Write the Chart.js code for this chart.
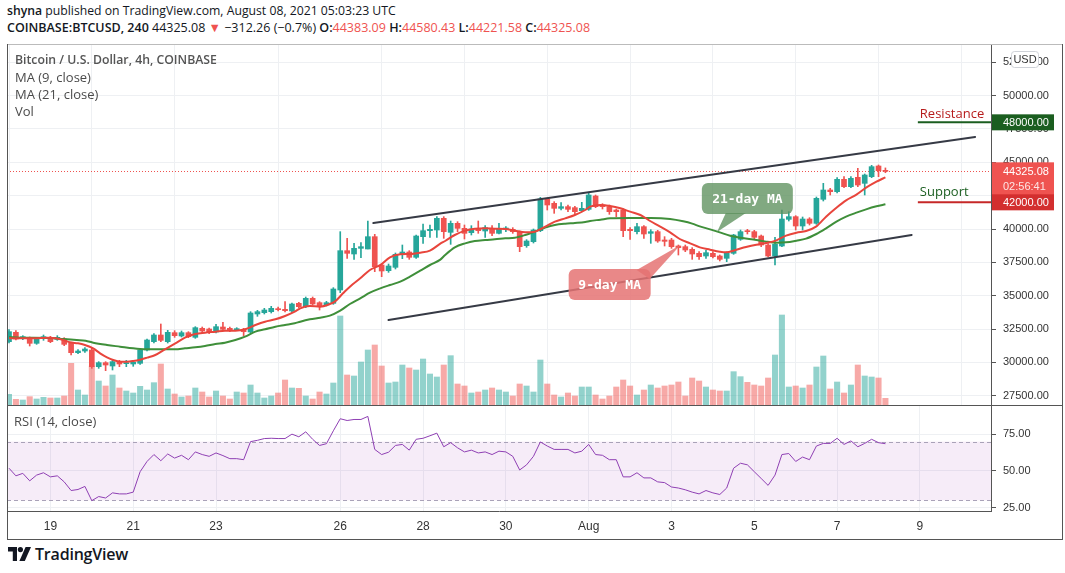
<!DOCTYPE html>
<html><head><meta charset="utf-8">
<script src="https://cdn.jsdelivr.net/npm/chart.js@4.4.0/dist/chart.umd.min.js"></script>
<style>
html,body{margin:0;padding:0;background:#fff;}
#root{position:relative;width:1065px;height:573px;overflow:hidden;font-family:'Open Sans',sans-serif;color:#131722;}
.abs{position:absolute;white-space:nowrap;line-height:1;}
canvas{position:absolute;left:0;}
.line{position:absolute;background:#555;}
.r{color:#ef5350;}
.leg{font-size:13px;color:#4a4a4a;}
</style></head><body>
<div id="root">
  <canvas id="mainC" width="1065" height="361" style="top:44px"></canvas>
  <canvas id="rsiC" width="1065" height="134" style="top:405px"></canvas>
  <div class="line" style="left:7px;top:44px;width:1055px;height:1px;background:#bbb"></div>
  <div class="line" style="left:7px;top:44px;width:1px;height:495px"></div>
  <div class="line" style="left:1062px;top:44px;width:1px;height:495px"></div>
  <div class="line" style="left:7px;top:405px;width:1056px;height:1px"></div>
  <div class="line" style="left:7px;top:539px;width:1056px;height:1px"></div>

  <div class="abs" id="h1" style="left:7px;top:5px;font-size:13px"><b style="font-weight:600">shyna</b> published on TradingView.com, August 08, 2021 05:03:23 UTC</div>
  <div class="abs" id="h2" style="left:7px;top:22px;font-size:13px"><b style="font-weight:600">COINBASE:BTCUSD, 240</b> 44325.08 <span class="r">▼</span> −312.26 (−0.7%) <b style="font-weight:600">O:</b><span class="r">44383.09</span> <b style="font-weight:600">H:</b><span class="r">44580.43</span> <b style="font-weight:600">L:</b><span class="r">44221.58</span> <b style="font-weight:600">C:</b><span class="r">44325.08</span></div>

  <div class="abs leg" id="l1" style="left:15px;top:54px;font-weight:600;color:#555">Bitcoin / U.S. Dollar, 4h, COINBASE</div>
  <div class="abs leg" style="left:15px;top:71px">MA (9, close)</div>
  <div class="abs leg" style="left:15px;top:88px">MA (21, close)</div>
  <div class="abs leg" style="left:15px;top:105px">Vol</div>
  <div class="abs leg" style="left:14px;top:415px">RSI (14, close)</div>

  <div class="abs" style="left:8px;top:546px;height:16px;display:flex;align-items:center;">
    <svg width="24" height="14" viewBox="0 0 24 14"><path d="M0 0h9v14h-4.2v-9.6h-4.8z" fill="#131722"/><circle cx="12.4" cy="2.6" r="2.6" fill="#131722"/><path d="M17.6 0h5.4l-6.2 14h-5.4z" fill="#131722"/></svg>
    <span style="font-family:'Open Sans';font-weight:600;font-size:16px;margin-left:3px;color:#131722;letter-spacing:-0.2px">TradingView</span>
  </div>
</div>
<script>
// ---- data (4h candles, index 0 = 18 Jul 2021 00:00) ----
const opens = [31550,32250,31775,31850,31425,31800,31850,31725,31750,31425,30725,30850,30925,29675,29975,29725,30050,29900,29875,29925,
30925,31550,32050,31550,32225,31975,32225,31875,32550,32500,32275,32650,32550,32450,32475,32275,33625,33725,33800,34025,
33975,33850,34425,34175,34800,34475,34300,34425,35425,38375,38125,38550,38500,39425,37300,36875,37125,38075,38275,37875,
39425,39875,39925,40800,39750,40425,40050,39725,40050,39850,40050,39675,40000,39975,39800,38750,39050,39875,42250,41925,
41550,41675,41600,41375,41475,42475,41800,41675,41425,41425,39975,39800,40175,39675,39800,39175,39175,38725,38675,38475,
38175,37975,38175,37975,37800,38175,39225,39875,39800,39475,38800,37975,38725,40725,40925,40225,40750,40425,42225,42925,
42800,43725,43175,43875,43425,43925,44725,44383.09];
const highs = [32450,32375,32000,31900,31800,32050,31950,32000,31850,31500,30950,31100,31075,30050,30050,30150,30150,30150,30150,30950,
31750,32150,32875,32400,32375,32350,32300,32675,32650,32575,32850,33000,32650,32600,32550,33800,33900,34050,34200,34150,
34550,34450,34500,34900,34900,34550,34575,35600,39800,39300,38925,38975,40600,39600,37400,37375,38200,38800,38375,39550,
40375,40300,40925,40925,40600,40550,40300,40250,40600,40250,40250,40425,40175,40100,39850,39200,40000,42375,42300,42050,
41975,41800,41700,42000,42675,42550,41900,41800,41500,41500,40100,40425,40250,39950,39900,39425,39300,38800,38800,38600,
38300,38400,38300,38050,38275,39600,39925,39975,39900,39550,38900,39375,41425,41300,41000,40900,40850,42400,43425,43050,
43850,43925,43925,44550,44125,44775,44800,44580.43];
const lows = [31450,31675,31700,31225,31350,31650,31475,31650,31250,30550,30650,30750,29550,29550,29375,29425,29675,29675,29700,29850,
30850,31450,31550,31450,31875,31900,31850,31800,32200,32150,32200,32375,32300,32400,32000,32200,33450,33625,33700,33850,
33775,33750,34100,34100,34300,33925,34225,34350,35225,37800,37725,37850,38500,36800,36425,36750,37000,37775,37725,37800,
38925,39375,39375,39300,38850,39800,39250,39550,39675,39375,39500,39625,39800,39675,38300,38625,38950,39800,41425,41175,
41425,41300,41125,41300,41400,41600,41500,41100,40925,39425,39225,39625,39300,38925,39000,38725,38550,38050,38300,37725,
37725,37800,37825,37600,37550,38100,39150,39625,39275,38675,37900,37300,38675,40600,39925,39925,40300,40350,42100,42550,
42700,43100,43100,43175,42550,43850,43925,44221.58];
const closes = [32300,31750,31925,31425,31725,31925,31550,31875,31350,30725,30850,31000,29675,29975,29800,30050,29875,29975,30000,30925,
31675,32050,31650,32250,32000,32225,31925,32600,32350,32225,32675,32475,32375,32500,32300,33700,33800,33925,34050,33950,
33875,34375,34175,34800,34375,34175,34475,35500,38375,38175,38550,38675,39425,37175,36850,37225,38100,38275,37875,39475,
39875,39975,40800,39800,40425,40050,39675,40000,39875,40100,39675,40050,40050,39800,38675,39100,39925,42250,41800,41550,
41675,41475,41300,41550,42550,41675,41675,41300,41300,39875,39875,40175,39625,39800,39100,39075,38675,38600,38425,38125,
37925,38225,37925,37725,38175,39550,39800,39800,39375,38800,37975,38850,40750,40925,40225,40750,40425,42300,42925,42800,
43725,43175,43800,43300,44050,44675,44375,44325.08];
const volumes = [640,340,300,500,360,460,420,420,540,2500,900,600,2340,1440,1140,1800,1020,840,720,1120,
900,1340,2460,960,660,480,540,1020,780,480,840,540,360,780,720,1200,720,420,540,720,
1500,1020,1000,540,360,780,660,1320,5340,1800,1740,2580,3300,3600,2340,1320,1380,2400,2220,2100,
2760,1860,1680,2400,2960,1260,1140,720,780,900,1020,900,780,540,1260,1140,780,2700,1260,600,
480,720,540,1080,1080,600,360,540,1080,1500,1140,600,900,1200,1020,1140,1200,1380,540,1620,
1440,1080,900,840,840,2000,1700,1360,1200,1140,1620,3000,5400,1080,1140,1020,1200,2280,2940,960,
1380,720,1200,2400,1740,1680,1620,400];
const rsi = [51.9,46.7,48.4,43.3,47.2,48.8,46.0,46.7,42.6,36.7,37.4,39.5,29.8,32.6,31.6,35.1,34.4,34.4,35.6,49.5,
56.5,61.2,57.0,61.6,58.8,60.7,57.7,63.0,61.2,60.0,62.3,60.5,58.4,58.4,57.7,70.0,70.9,72.1,72.3,72.1,
72.1,75.1,73.3,76.7,71.6,67.4,68.6,77.4,85.6,84.4,85.1,85.1,87.2,64.7,61.2,62.8,67.4,68.1,64.2,71.6,
72.3,74.0,75.8,66.5,69.3,65.8,63.0,64.2,62.3,63.0,61.2,63.5,63.0,60.0,50.7,54.2,60.0,69.8,67.0,64.7,
64.7,64.7,62.3,63.5,68.1,61.2,60.7,57.7,57.7,46.0,46.0,48.8,45.3,45.3,42.6,42.1,39.1,38.4,37.2,35.6,
34.4,36.7,35.1,34.0,38.4,51.9,55.3,54.2,49.5,44.9,40.2,47.2,61.2,61.9,56.5,59.5,57.7,67.0,68.8,68.8,
72.3,68.1,70.5,66.5,68.8,71.6,69.3,68.6];
// moving averages: [candle index, value]
const ma9 = [[0,31800],[1.6,31800],[3.5,31800],[5.9,31850],[7.9,31675],[8.8,31500],[10,31425],[11,31300],[12.2,31050],[13.2,30675],
[14.2,30375],[15.1,30175],[16.1,30050],[17.1,30050],[18,30100],[19,30200],[20,30350],[21.2,30550],[22.6,30975],[24.1,31425],
[25.5,31850],[27,32125],[28.4,32225],[29.9,32300],[31.3,32375],[32.8,32375],[34.2,32475],[35.7,32800],[37.1,33050],[38.6,33225],
[40,33475],[41.4,33800],[42.2,34050],[43.6,34225],[45.1,34175],[46.5,34375],[47.2,34550],[48.4,35175],[49.4,35675],[50.9,36300],
[52.3,36925],[53.8,37300],[55.2,37875],[56.7,38100],[58.1,38125],[59.6,38225],[61,38375],[62.5,38900],[63.2,39100],[64.6,39550],
[66.1,39875],[67.5,40025],[69,40050],[70.4,40025],[71.9,40000],[73.3,39875],[74.8,39750],[76.2,39800],[77.7,40175],[79.1,40550],
[80.6,40800],[82,41050],[83.5,41425],[84.2,41675],[85.7,41800],[87.1,41725],[88.6,41550],[90,41300],[91.5,41050],[92.9,40600],
[94.3,40200],[95.8,39750],[97.2,39250],[98.7,38925],[100.1,38625],[101.6,38450],[103,38300],[103.9,38250],[105.4,38450],[106.8,38650],
[108.3,38825],[109.7,38950],[111.2,39150],[112.6,39500],[114.1,39725],[115.5,39850],[117,40200],[118.4,40925],[119.9,41600],[121.3,42150],
[122.8,42575],[124.2,43100],[125.7,43550],[127,43875]];
const ma21 = [[0,31900],[1.6,31850],[3.5,31850],[5.9,31825],[7.9,31750],[9.8,31675],[11.1,31625],[12.2,31475],[14.2,31300],[16.1,31175],
[18,31050],[19,31000],[20,30975],[22.6,30975],[24.1,30975],[25.5,31050],[27,31125],[28.4,31225],[29.9,31375],[31.3,31475],
[32.8,31675],[34.2,31925],[35.7,32300],[37.1,32475],[38.6,32675],[40,32800],[41.4,32925],[42.2,33050],[43.6,33225],[45.1,33350],
[46.5,33500],[48,33875],[49.4,34375],[50.9,34800],[52.3,35225],[53.8,35550],[55.2,35800],[56.7,36050],[58.1,36425],[59.6,36875],
[61,37300],[62.5,37700],[63.2,38050],[64.6,38625],[66.1,38925],[67.5,39100],[69,39175],[70.4,39225],[71.9,39300],[73.3,39350],
[74.8,39550],[76.2,39800],[77.7,40100],[79.1,40300],[80.6,40400],[82,40450],[83.5,40525],[84.2,40600],[85.7,40700],[87.1,40800],
[90,40825],[93,40825],[95.8,40750],[97.7,40575],[99,40400],[100.1,40200],[101.6,39975],[103,39750],[104.5,39500],[106,39350],
[108.3,39175],[109.7,39050],[111.2,38975],[112.6,39000],[114.1,39125],[115.5,39275],[117,39625],[118.4,40050],[119.9,40550],[121.3,40925],
[122.8,41225],[124.2,41475],[125.7,41700],[127,41850]];
const dayTicks = [6,18,30,48,60,72,84,96,108,120,132];
const dayLabels = ['19','21','23','26','28','30','Aug','3','5','7','9'];
const priceTicks = [27500,30000,32500,35000,37500,40000,42500,45000,47500,50000,52500];
const rsiTicks = [25,50,75];
const resistance = 48000, support = 42000;
const countdown = '02:56:41';
// drawn lines: [candle index, price]
const upperChannel = [[52.8,40450],[140,46900]];
const lowerChannel = [[55,33175],[130.8,39550]];

// ---- rendering ----
const TEAL='#26a69a', RED='#ef5350';
const N = closes.length;
const isUp = closes.map((c,i)=>c>=opens[i]);
const FONT = "'Liberation Sans', Arial, sans-serif";
Chart.defaults.font.family = FONT;
Chart.defaults.color = '#333';
const X_MIN = -0.29, X_MAX = 142.3;
const GRID = '#eef0f3';

function fixWidth(s){ s.width = 71; s.paddingTop = 0; s.paddingBottom = 0; }

const annot = {
  id:'annot',
  beforeDatasetsDraw(chart){
    const {ctx, chartArea:a, scales:{y}} = chart;
    const yy = Math.round(y.getPixelForValue(closes[N-1]))+0.5;
    ctx.save(); ctx.strokeStyle=RED; ctx.lineWidth=1; ctx.setLineDash([1,2]);
    ctx.beginPath(); ctx.moveTo(a.left,yy); ctx.lineTo(a.right,yy); ctx.stroke(); ctx.restore();
  },
  afterDatasetsDraw(chart){
    const {ctx, chartArea:a, scales:{x,y}} = chart;
    const X=v=>x.getPixelForValue(v), Y=v=>y.getPixelForValue(v);
    ctx.save();
    ctx.beginPath(); ctx.rect(a.left,a.top,a.right-a.left,a.bottom-a.top); ctx.clip();
    ctx.strokeStyle='#363a45'; ctx.lineWidth=2; ctx.lineCap='round';
    [upperChannel, lowerChannel].forEach(l=>{
      ctx.beginPath(); ctx.moveTo(X(l[0][0]),Y(l[0][1])); ctx.lineTo(X(l[1][0]),Y(l[1][1])); ctx.stroke();
    });
    const lx = X(131.7);
    ctx.lineCap='butt';
    ctx.strokeStyle='#1b5e20'; ctx.beginPath(); ctx.moveTo(lx,Y(resistance)); ctx.lineTo(a.right,Y(resistance)); ctx.stroke();
    ctx.strokeStyle='#c62828'; ctx.beginPath(); ctx.moveTo(lx,Y(support)); ctx.lineTo(a.right,Y(support)); ctx.stroke();
    ctx.font = "13px 'Open Sans'"; ctx.textBaseline='alphabetic'; ctx.textAlign='left';
    ctx.fillStyle='#b71c1c'; ctx.fillText('Resistance', lx+2, Y(resistance)-4);
    ctx.fillStyle='#1b5e20'; ctx.fillText('Support', lx+2, Y(support)-6);
    function callout(bx,by,w,h,tail,color,text){
      ctx.fillStyle=color;
      ctx.beginPath(); ctx.roundRect(bx,by,w,h,6); ctx.fill();
      ctx.beginPath(); ctx.moveTo(tail[0][0],tail[0][1]); ctx.lineTo(tail[1][0],tail[1][1]); ctx.lineTo(tail[2][0],tail[2][1]); ctx.closePath(); ctx.fill();
      ctx.fillStyle='#fff'; ctx.font="bold 13px 'DejaVu Sans Mono'"; ctx.textAlign='center'; ctx.textBaseline='middle';
      ctx.fillText(text, bx+w/2, by+h/2+1);
    }
    const gx=X(100.4), gy=Y(43450);
    callout(gx,gy,91,31,[[gx+24,gy+30],[gx+44,gy+30],[X(102.6),Y(39780)]],'rgba(94,145,94,0.78)','21-day MA');
    const rx=X(81.1), ry=Y(37000);
    callout(rx,ry,82,31,[[rx+68,ry+1],[rx+81,ry+10],[X(97.3),Y(38800)]],'rgba(229,115,115,0.85)','9-day MA');
    ctx.restore();
  },
  afterDraw(chart){
    const {ctx, chartArea:a, scales:{y}} = chart;
    const L = a.right+1, W = 62;
    ctx.save();
    ctx.font = "11px "+FONT; ctx.textBaseline='middle'; ctx.textAlign='left';
    function box(v,bg,txt,fg,h){
      const yc=y.getPixelForValue(v);
      ctx.fillStyle=bg; ctx.fillRect(L, yc-h/2, W, h);
      ctx.fillStyle=fg; ctx.fillText(txt, a.right+12, yc+0.5);
    }
    box(resistance,'#1b5e20',resistance.toFixed(2),'#fff',16);
    const yc = y.getPixelForValue(closes[N-1]);
    ctx.fillStyle=RED; ctx.fillRect(L, yc-9, W, 34);
    ctx.fillStyle='#fff'; ctx.fillText(closes[N-1].toFixed(2), a.right+12, yc+0.5);
    ctx.fillStyle='rgba(255,255,255,0.85)'; ctx.fillText(countdown, a.right+12, yc+15.5);
    box(support,'#d32f2f',support.toFixed(2),'#fff',16);
    ctx.fillStyle='#fff'; ctx.strokeStyle='#cfd2d8'; ctx.lineWidth=1;
    ctx.beginPath(); ctx.roundRect(1011.5,7.5,27,16,3); ctx.fill(); ctx.stroke();
    ctx.fillStyle='#333'; ctx.textAlign='center'; ctx.fillText('USD',1025,15.5);
    ctx.restore();
  }
};

new Chart(document.getElementById('mainC'), {
  type:'bar',
  data:{ datasets:[
    {type:'line', data:ma9.map(p=>({x:p[0],y:p[1]})), borderColor:'#e8453c', borderWidth:2, pointRadius:0, cubicInterpolationMode:'monotone', yAxisID:'y', order:0},
    {type:'line', data:ma21.map(p=>({x:p[0],y:p[1]})), borderColor:'#3f8f3a', borderWidth:2, pointRadius:0, cubicInterpolationMode:'monotone', yAxisID:'y', order:0},
    {data:closes.map((c,i)=>({x:i,y:[Math.min(opens[i],c),Math.max(opens[i],c)]})), backgroundColor:isUp.map(u=>u?TEAL:RED), barThickness:5, minBarLength:1, grouped:false, yAxisID:'y', order:1},
    {data:closes.map((c,i)=>({x:i,y:[lows[i],highs[i]]})), backgroundColor:isUp.map(u=>u?TEAL:RED), barThickness:1, grouped:false, yAxisID:'y', order:2},
    {data:volumes.map((v,i)=>({x:i,y:v})), backgroundColor:isUp.map(u=>u?'rgba(38,166,154,0.5)':'rgba(239,83,80,0.5)'), barThickness:5.4, grouped:false, yAxisID:'yv', order:3}
  ]},
  options:{
    responsive:false, animation:false, devicePixelRatio:1, events:[],
    layout:{padding:{left:7,right:3,top:0,bottom:0}},
    plugins:{legend:{display:false}, tooltip:{enabled:false}},
    scales:{
      x:{type:'linear', min:X_MIN, max:X_MAX, offset:false,
         afterBuildTicks:s=>{s.ticks=dayTicks.map(v=>({value:v}));},
         afterFit:s=>{s.height=0; s.paddingLeft=0; s.paddingRight=0;},
         ticks:{display:false}, grid:{color:GRID, drawTicks:false}, border:{display:false}},
      y:{type:'linear', position:'right', min:26800, max:53875,
         afterBuildTicks:s=>{s.ticks=priceTicks.map(v=>({value:v}));},
         afterFit:fixWidth,
         ticks:{callback:v=>v.toFixed(2), font:{size:11}, color:'#333', padding:7},
         grid:{color:GRID, tickColor:'#555', tickLength:5}, border:{display:true,color:'#555'}},
      yv:{type:'linear', display:false, min:0, max:21660}
    }
  },
  plugins:[annot]
});

const rsiBand = {
  id:'rsiBand',
  beforeDatasetsDraw(chart){
    const {ctx, chartArea:a, scales:{y}} = chart;
    const t=y.getPixelForValue(70), b=y.getPixelForValue(30);
    ctx.save();
    ctx.fillStyle='rgba(156,39,176,0.09)'; ctx.fillRect(a.left,t,a.right-a.left,b-t);
    ctx.strokeStyle='#a9a2b8'; ctx.lineWidth=1; ctx.setLineDash([4,3]);
    [t,b].forEach(p=>{ const q=Math.round(p)+0.5; ctx.beginPath(); ctx.moveTo(a.left,q); ctx.lineTo(a.right,q); ctx.stroke(); });
    ctx.restore();
  }
};

new Chart(document.getElementById('rsiC'), {
  type:'line',
  data:{ datasets:[{data:rsi.map((v,i)=>({x:i,y:v})), borderColor:'#8e3fb3', borderWidth:1, pointRadius:0}]},
  options:{
    responsive:false, animation:false, devicePixelRatio:1, events:[],
    layout:{padding:{left:7,right:3,top:0,bottom:0}},
    plugins:{legend:{display:false}, tooltip:{enabled:false}},
    scales:{
      x:{type:'linear', min:X_MIN, max:X_MAX, offset:false,
         afterBuildTicks:s=>{s.ticks=dayTicks.map(v=>({value:v}));},
         afterFit:s=>{s.height=28; s.paddingLeft=0; s.paddingRight=0;},
         ticks:{callback:(v)=>dayLabels[dayTicks.indexOf(v)], font:{size:12}, color:'#333', padding:8, maxRotation:0, autoSkip:false},
         grid:{color:GRID, drawTicks:false}, border:{display:true,color:'#555'}},
      y:{type:'linear', position:'right', min:22.75, max:94.96,
         afterBuildTicks:s=>{s.ticks=rsiTicks.map(v=>({value:v}));},
         afterFit:fixWidth,
         ticks:{callback:v=>v.toFixed(2), font:{size:11}, color:'#333', padding:7},
         grid:{color:GRID, tickColor:'#555', tickLength:5}, border:{display:true,color:'#555'}}
    }
  },
  plugins:[rsiBand]
});

function fit(id, w){ const el=document.getElementById(id); const cw=el.getBoundingClientRect().width; const fs=parseFloat(getComputedStyle(el).fontSize); el.style.fontSize=(fs*w/cw)+'px'; }
fit('h1',389); fit('h2',584); fit('l1',202);
</script>
</body></html>
